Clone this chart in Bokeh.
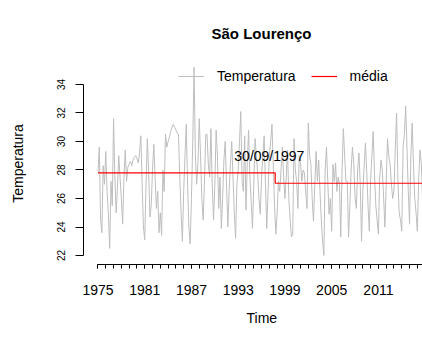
import numpy as np
from bokeh.plotting import figure
from bokeh.models import Range1d, FixedTicker, Legend, LegendItem, Label, Title
from bokeh.embed import file_html
from bokeh.resources import INLINE

title_text = "São Lourenço"
x_label = "Time"
y_label = "Temperatura"
series_names = ["Temperatura", "média"]
start_year = 1975
per_year = 6
temperatura = [
    27.8, 29.6, 24.5, 23.6, 28.3, 27.0,
    29.3, 26.5, 24.9, 22.5, 27.2, 25.5,
    31.6, 27.5, 25.0, 26.8, 29.0, 27.5,
    26.0, 24.2, 27.5, 29.4, 27.2, 28.2,
    28.4, 28.6, 28.3, 28.7, 28.9, 29.0,
    28.8, 28.5, 29.2, 30.4, 27.0, 24.0,
    23.1, 27.0, 30.2, 28.0, 24.7, 25.5,
    28.0, 29.8, 27.5, 25.3, 26.5, 23.6,
    25.0, 23.4, 28.0, 26.5, 30.5, 29.6,
    30.0, 30.3, 30.7, 31.0, 31.2, 31.0,
    30.8, 30.6, 30.5, 27.5, 25.0, 23.0,
    26.5, 29.0, 31.2, 27.0, 24.0, 22.8,
    26.0, 30.0, 35.2, 29.0, 27.0, 28.5,
    31.6, 29.0, 26.0, 24.5, 27.0, 30.5,
    30.5, 28.4, 27.5, 30.9, 27.0, 24.5,
    27.0, 30.8, 29.0, 25.3, 27.5, 23.9,
    26.0, 28.7, 30.0, 27.0, 24.0, 26.5,
    28.4, 30.0, 27.5, 25.0, 23.2, 27.0,
    28.0, 30.0, 32.1, 27.2, 26.5, 30.4,
    25.2, 28.5, 30.8, 27.5, 25.8, 23.9,
    27.0, 30.2, 29.0, 27.7, 26.0, 24.9,
    27.5, 29.0, 30.4, 27.0, 23.9, 26.5,
    29.0, 30.0, 31.2, 28.4, 25.5, 23.5,
    25.0, 27.2, 26.5, 28.0, 29.6, 27.5,
    26.0, 27.5, 29.4, 26.0, 24.5, 23.3,
    23.5, 30.2, 28.0, 27.2, 25.3, 29.0,
    28.5, 27.2, 28.0, 27.8, 26.5, 25.3,
    31.3, 29.0, 28.4, 26.0, 24.4, 27.0,
    29.3, 27.2, 28.7, 26.5, 24.5, 23.0,
    22.0, 28.0, 29.6, 27.2, 24.9, 26.0,
    23.7, 28.4, 27.2, 28.5, 26.5, 27.5,
    27.0, 23.3, 28.0, 30.9, 29.0, 27.2,
    27.2, 23.3, 25.5, 28.0, 29.6, 28.5,
    26.1, 25.3, 28.0, 29.2, 27.0, 23.0,
    26.5, 28.2, 29.9, 27.9, 25.5, 23.7,
    27.3, 29.0, 30.7, 27.7, 25.5, 24.5,
    23.5, 27.5, 28.7, 28.0, 26.1, 24.0,
    27.0, 30.2, 29.0, 28.4, 27.0, 26.0,
    26.6, 29.5, 32.0, 27.3, 25.0, 24.5,
    23.7, 29.6, 30.5, 32.5, 29.6, 26.5,
    24.2, 29.0, 31.3, 28.4, 26.0, 25.0,
    23.7, 27.3, 29.4, 28.5, 26.0, 27.0,
]
break_date = 1997.75
break_label = "30/09/1997"
break_label_pos = [1997.0, 29.0]
media_before = 27.8
media_after = 27.07
x_tick_labels = [1975, 1981, 1987, 1993, 1999, 2005, 2011]
y_ticks = [22, 24, 26, 28, 30, 32, 34]

t = start_year + np.arange(len(temperatura)) / per_year
seg_x = [t[0], break_date, break_date, t[-1]]
seg_y = [media_before, media_before, media_after, media_after]

FONT = "Liberation Sans"
X0, X1 = 1973.14, 2016.66
Y0, Y1 = 21.37, 35.54

p = figure(width=422, height=338, output_backend="svg", toolbar_location=None,
           x_range=Range1d(X0, X1), y_range=Range1d(Y0, Y1),
           min_border_left=83, min_border_right=0, min_border_top=62,
           min_border_bottom=74)
p.outline_line_color = None
p.grid.visible = False
p.background_fill_color = "white"

xa = p.below[0]
ya = p.left[0]

r1 = p.line(t, temperatura, line_color="#BEBEBE", line_width=1)
r2 = p.line(seg_x, seg_y, line_color="red", line_width=1.2)

p.title.text = title_text
p.title.align = "left"
p.title.offset = 128
p.title.standoff = 42
p.title.vertical_align = "bottom"
p.title.text_font = FONT
p.title.text_font_size = "15px"
p.title.text_font_style = "bold"
p.title.text_color = "black"

xa.ticker = FixedTicker(ticks=x_tick_labels,
                        minor_ticks=list(range(x_tick_labels[0], int(t[-1]) + 2)))
xa.bounds = (x_tick_labels[0], X1)
xa.major_tick_in = 0
xa.minor_tick_in = 0
xa.major_tick_out = 4
xa.minor_tick_out = 4
xa.axis_line_color = "black"
xa.major_tick_line_color = "black"
xa.minor_tick_line_color = "black"
xa.major_label_text_font = FONT
xa.major_label_text_font_size = "14px"
xa.major_label_text_color = "black"
xa.major_label_standoff = 16

p.add_layout(Title(text=x_label, align="left", offset=163, standoff=21,
                   vertical_align="bottom", text_font=FONT,
                   text_font_size="14px", text_font_style="normal",
                   text_color="black"), "below")

ya.ticker = FixedTicker(ticks=y_ticks, minor_ticks=[])
ya.bounds = (y_ticks[0], y_ticks[-1])
ya.major_tick_in = 0
ya.major_tick_out = 8
ya.axis_line_color = "black"
ya.major_tick_line_color = "black"
ya.major_label_orientation = "vertical"
ya.major_label_text_font = FONT
ya.major_label_text_font_size = "10px"
ya.major_label_text_color = "black"
ya.major_label_standoff = 10
ya.axis_label = y_label
ya.axis_label_text_font = FONT
ya.axis_label_text_font_size = "14px"
ya.axis_label_text_font_style = "normal"
ya.axis_label_text_color = "black"
ya.axis_label_standoff = 29

p.add_layout(Label(x=break_label_pos[0], y=break_label_pos[1], text=break_label,
                   text_align="center", text_baseline="middle", text_font=FONT,
                   text_font_size="14px", text_color="black"))

legend = Legend(items=[LegendItem(label=series_names[0], renderers=[r1]),
                       LegendItem(label=series_names[1], renderers=[r2])],
                orientation="horizontal", location=(95, 180),
                border_line_alpha=0, background_fill_alpha=0, padding=0, margin=0,
                spacing=15, label_standoff=13, glyph_width=26, glyph_height=16,
                label_height=16, label_text_font=FONT, label_text_font_size="14px",
                label_text_color="black")
p.add_layout(legend)

open("out.html", "w").write(file_html(p, INLINE))
